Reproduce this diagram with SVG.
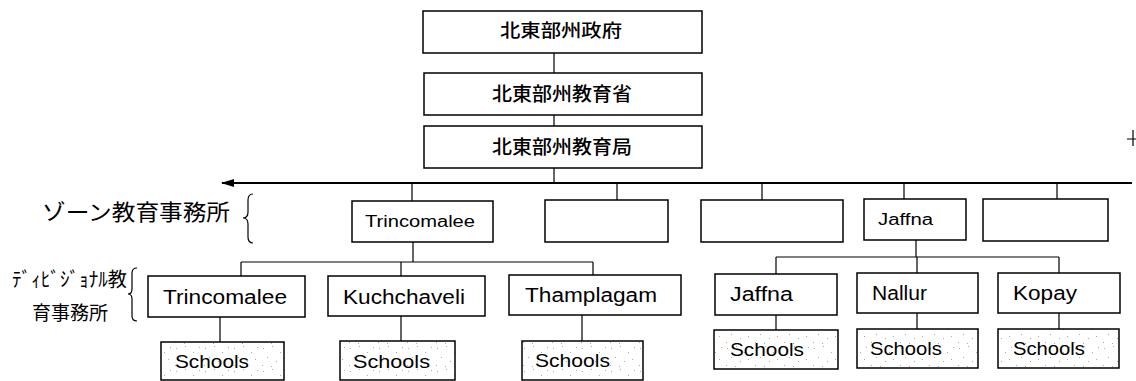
<svg xmlns="http://www.w3.org/2000/svg" width="1136" height="381" viewBox="0 0 1136 381">
<style>
.box{fill:#fff;stroke:#000;stroke-width:1.5}
.sch{fill:url(#stip);stroke:#000;stroke-width:1.5}
.ln{fill:none;stroke:#000;stroke-width:1.2}
.main{fill:none;stroke:#000;stroke-width:2}
.jp{font-family:"Noto Sans CJK JP","Noto Sans CJK SC",sans-serif;fill:#000}
.en{font-family:"Liberation Sans","Noto Sans",sans-serif;fill:#000}
</style>
<defs>
<pattern id="stip" width="29" height="23" patternUnits="userSpaceOnUse">
<rect width="29" height="23" fill="#fff"/>
<g fill="#aaa">
<rect x="2" y="3" width="1" height="1"/><rect x="11" y="1" width="1" height="1"/><rect x="19" y="7" width="1" height="1"/>
<rect x="25" y="2" width="1" height="1"/><rect x="6" y="12" width="1" height="1"/><rect x="15" y="16" width="1" height="1"/>
<rect x="23" y="14" width="1" height="1"/><rect x="1" y="20" width="1" height="1"/><rect x="10" y="21" width="1" height="1"/>
</g>
</pattern>
<marker id="arr" viewBox="0 0 13 8" refX="12" refY="4" markerWidth="13" markerHeight="8" markerUnits="userSpaceOnUse" orient="auto">
<path d="M0,0 L13,4 L0,8 Z" fill="#000"/>
</marker>
</defs>

<g id="connectors">
<path class="ln" d="M554,53 V73 M554,115 V126 M554,168 V183"/>
<path class="main" d="M1132,183 H222" marker-end="url(#arr)"/>
<path class="ln" d="M412,183 V201 M617,183 V200 M762,183 V200 M904,183 V199 M1057,183 V199"/>
<path class="ln" d="M413,242 V262 M241,262 H593 M241,262 V276 M401,262 V276 M593,262 V275"/>
<path class="ln" d="M220,317 V342 M401,316 V341 M582,315 V341"/>
<path class="ln" d="M916,240 V257 M776,257 H1059 M776,257 V274 M917,257 V273 M1059,257 V273"/>
<path class="ln" d="M776,315 V330 M917,313 V329 M1059,313 V329"/>
<path class="ln" d="M1127,139 H1136 M1133,130 V146"/>
</g>

<g id="n-gov"><rect class="box" x="423" y="11" width="279" height="42"/>
<text class="jp" x="561" y="37" font-size="18" font-weight="500" text-anchor="middle" textLength="122" lengthAdjust="spacingAndGlyphs">北東部州政府</text></g>
<g id="n-ministry"><rect class="box" x="424" y="73" width="278" height="42"/>
<text class="jp" x="562" y="101" font-size="19" font-weight="500" text-anchor="middle" textLength="140" lengthAdjust="spacingAndGlyphs">北東部州教育省</text></g>
<g id="n-dept"><rect class="box" x="424" y="126" width="278" height="42"/>
<text class="jp" x="562" y="154" font-size="19" font-weight="500" text-anchor="middle" textLength="140" lengthAdjust="spacingAndGlyphs">北東部州教育局</text></g>

<g id="label-zone">
<text class="jp" x="42" y="220" font-size="22" textLength="188" lengthAdjust="spacingAndGlyphs">ゾーン教育事務所</text>
<path class="ln" d="M253,194 q-5,0 -5,6 v12 q0,6 -5,6 q5,0 5,6 v13 q0,6 5,6"/>
</g>
<g id="label-div">
<text class="jp" x="12" y="287" font-size="20" textLength="115" lengthAdjust="spacingAndGlyphs">ﾃﾞｨﾋﾞｼﾞｮﾅﾙ教</text>
<text class="jp" x="32" y="320" font-size="19" textLength="76" lengthAdjust="spacingAndGlyphs">育事務所</text>
<path class="ln" d="M137,268 q-5,0 -5,5 v16 q0,5 -4,5 q4,0 4,5 v17 q0,5 5,5"/>
</g>

<g id="z-trincomalee"><rect class="box" x="352" y="201" width="141" height="41"/>
<text class="en" x="365" y="227" font-size="16" textLength="110" lengthAdjust="spacingAndGlyphs">Trincomalee</text></g>
<g id="z-2"><rect class="box" x="545" y="200" width="123" height="42"/></g>
<g id="z-3"><rect class="box" x="701" y="200" width="142" height="42"/></g>
<g id="z-jaffna"><rect class="box" x="864" y="199" width="102" height="41"/>
<text class="en" x="878" y="225" font-size="16" textLength="55" lengthAdjust="spacingAndGlyphs">Jaffna</text></g>
<g id="z-5"><rect class="box" x="983" y="199" width="125" height="42"/></g>

<g id="d-trincomalee"><rect class="box" x="148" y="276" width="157" height="41"/>
<text class="en" x="163" y="304" font-size="20" textLength="124" lengthAdjust="spacingAndGlyphs">Trincomalee</text></g>
<g id="d-kuchchaveli"><rect class="box" x="328" y="276" width="157" height="40"/>
<text class="en" x="343" y="304" font-size="20" textLength="122" lengthAdjust="spacingAndGlyphs">Kuchchaveli</text></g>
<g id="d-thamplagam"><rect class="box" x="509" y="275" width="172" height="40"/>
<text class="en" x="525" y="302" font-size="20" textLength="132" lengthAdjust="spacingAndGlyphs">Thamplagam</text></g>
<g id="d-jaffna"><rect class="box" x="715" y="274" width="122" height="41"/>
<text class="en" x="730" y="301" font-size="20" textLength="63" lengthAdjust="spacingAndGlyphs">Jaffna</text></g>
<g id="d-nallur"><rect class="box" x="857" y="273" width="121" height="40"/>
<text class="en" x="872" y="300" font-size="20" textLength="55" lengthAdjust="spacingAndGlyphs">Nallur</text></g>
<g id="d-kopay"><rect class="box" x="998" y="273" width="122" height="40"/>
<text class="en" x="1013" y="300" font-size="20" textLength="64" lengthAdjust="spacingAndGlyphs">Kopay</text></g>

<g id="s-trincomalee"><rect class="sch" x="161" y="342" width="123" height="38"/>
<text class="en" x="175" y="368" font-size="19" textLength="74" lengthAdjust="spacingAndGlyphs">Schools</text></g>
<g id="s-kuchchaveli"><rect class="sch" x="340" y="341" width="115" height="39"/>
<text class="en" x="353" y="368" font-size="19" textLength="77" lengthAdjust="spacingAndGlyphs">Schools</text></g>
<g id="s-thamplagam"><rect class="sch" x="522" y="341" width="121" height="39"/>
<text class="en" x="535" y="367" font-size="19" textLength="75" lengthAdjust="spacingAndGlyphs">Schools</text></g>
<g id="s-jaffna"><rect class="sch" x="714" y="330" width="124" height="39"/>
<text class="en" x="730" y="356" font-size="19" textLength="74" lengthAdjust="spacingAndGlyphs">Schools</text></g>
<g id="s-nallur"><rect class="sch" x="857" y="329" width="121" height="39"/>
<text class="en" x="870" y="355" font-size="19" textLength="72" lengthAdjust="spacingAndGlyphs">Schools</text></g>
<g id="s-kopay"><rect class="sch" x="998" y="329" width="121" height="39"/>
<text class="en" x="1013" y="355" font-size="19" textLength="72" lengthAdjust="spacingAndGlyphs">Schools</text></g>
</svg>
